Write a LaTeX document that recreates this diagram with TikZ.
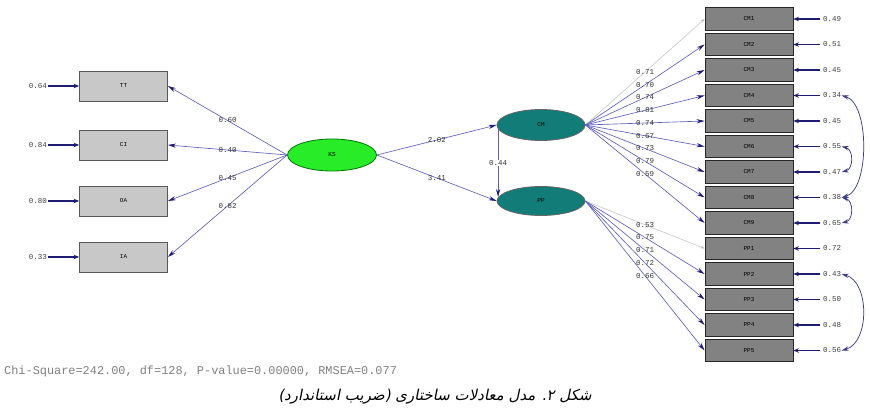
\documentclass[tikz,border=0pt]{standalone}
\usepackage{fontspec}
\setmainfont{Liberation Sans}
\setmonofont{Liberation Mono}
\newfontfamily\farsi[Script=Arabic,FakeSlant=0.2]{DejaVu Sans}
\TeXXeTstate=1
\usetikzlibrary{arrows.meta,calc,shapes.geometric}
\definecolor{lbox}{RGB}{200,200,200}
\definecolor{dbox}{RGB}{130,130,130}
\definecolor{navy}{RGB}{28,28,115}
\definecolor{pathc}{RGB}{95,95,185}
\definecolor{tealc}{RGB}{18,124,120}
\definecolor{lgreen}{RGB}{40,236,40}
\begin{document}
\begin{tikzpicture}[x=1pt,y=-1pt,
  lboxs/.style={draw=black!65, fill=lbox, minimum width=88pt, minimum height=30pt, inner sep=0pt, line width=0.8pt, font=\ttfamily\fontsize{6}{7}\selectfont},
  rboxs/.style={draw=black!85, fill=dbox, minimum width=88pt, minimum height=22.5pt, inner sep=0pt, line width=0.8pt, font=\ttfamily\fontsize{6}{7}\selectfont},
  lat/.style={inner sep=0.5pt, font=\ttfamily\fontsize{7.5}{8}\selectfont, text=black!80},
  elat/.style={inner sep=0.5pt, font=\ttfamily\fontsize{7.5}{8}\selectfont, text=black!75},
  load/.style={draw=pathc, line width=0.65pt, -{Stealth[length=8pt,width=4.2pt,color=navy]}},
  fixed/.style={draw=black!22, line width=0.6pt, -{Stealth[length=4pt,width=2.5pt,color=black!30]}},
  err/.style={draw=navy, line width=1.5pt, -{Stealth[length=5.5pt,width=4.5pt]}},
  cov/.style={draw=navy!85, line width=0.75pt, {Stealth[length=7pt,width=4.5pt]}-{Stealth[length=7pt,width=4.5pt]}},
  latent/.style={ellipse, inner sep=0pt, line width=0.8pt, font=\ttfamily\fontsize{6}{7}\selectfont}
]
\useasboundingbox (0,0) rectangle (870,417);

% left observed
\node[lboxs] (L1) at (123.5,86) {TT};
\node[lboxs] (L2) at (123.5,145) {CI};
\node[lboxs] (L3) at (123.5,201) {OA};
\node[lboxs] (L4) at (123.5,257) {IA};
\node[elat] (le1) at (38,86) {0.64};
\node[elat] (le2) at (38,145) {0.84};
\node[elat] (le3) at (38,201) {0.80};
\node[elat] (le4) at (38,257) {0.33};
\foreach \i in {1,...,4} \draw[err] (le\i.east) -- (L\i.west);

% latents
\node[latent, draw=green!45!black, fill=lgreen, minimum width=89pt, minimum height=32pt] (KS) at (332,155) {KS};
\node[latent, draw=black!60, fill=tealc, minimum width=88pt, minimum height=31pt] (E1) at (541,125) {CM};
\node[latent, draw=black!60, fill=tealc, minimum width=88pt, minimum height=29pt] (E2) at (541,201) {PP};

% left loadings
\draw[load] (KS.west) -- node[lat,midway] {0.60} (L1.east);
\draw[load] (KS.west) -- node[lat,midway] {0.40} (L2.east);
\draw[load] (KS.west) -- node[lat,midway] {0.45} (L3.east);
\draw[load] (KS.west) -- node[lat,midway] {0.82} (L4.east);

% structural paths
\draw[load] (KS.east) -- node[lat,midway] {2.02} (E1.west);
\draw[load] (KS.east) -- node[lat,midway] {3.41} (E2.west);
\draw[load] ($(E1.west)+(1.5,4)$) -- node[lat,midway,fill=white] {0.44} ($(E2.west)+(1.5,-4)$);

% right observed
\foreach \i/\n/\y in {1/CM1/19, 2/CM2/44.5, 3/CM3/70, 4/CM4/95.5, 5/CM5/121, 6/CM6/146.5, 7/CM7/172, 8/CM8/197.5, 9/CM9/223, 10/PP1/248.5, 11/PP2/274, 12/PP3/299.5, 13/PP4/325, 14/PP5/350.5}
  \node[rboxs] (R\i) at (749,\y) {\n};
\foreach \i/\v/\y in {1/0.49/19, 2/0.51/44.5, 3/0.45/70, 4/0.34/95.5, 5/0.45/121, 6/0.55/146.5, 7/0.47/172, 8/0.38/197.5, 9/0.65/223, 10/0.72/248.5, 11/0.43/274, 12/0.50/299.5, 13/0.48/325, 14/0.56/350.5}
  \node[elat] (re\i) at (832,\y) {\v};
\foreach \i in {1,...,14} \draw[err] ($(re\i.west)+(-2,0)$) -- (R\i.east);

% right loadings
\draw[fixed] (E1.east) -- node[lat,midway] {0.71} (R1.west);
\foreach \i/\v in {2/0.70, 3/0.74, 4/0.81, 5/0.74, 6/0.67, 7/0.73, 8/0.79, 9/0.59}
  \draw[load] (E1.east) -- node[lat,midway] {\v} (R\i.west);
\draw[fixed] (E2.east) -- node[lat,midway] {0.53} (R10.west);
\foreach \i/\v in {11/0.75, 12/0.71, 13/0.72, 14/0.66}
  \draw[load] (E2.east) -- node[lat,midway] {\v} (R\i.west);

% error covariances
\draw[cov] (re4.east) .. controls ($(re4.east)+(28,8)$) and ($(re8.east)+(28,-8)$) .. (re8.east);
\draw[cov] (re6.east) .. controls ($(re6.east)+(12,3)$) and ($(re7.east)+(12,-3)$) .. (re7.east);
\draw[cov] (re8.east) .. controls ($(re8.east)+(12,3)$) and ($(re9.east)+(12,-3)$) .. (re9.east);
\draw[cov] (re11.east) .. controls ($(re11.east)+(28,8)$) and ($(re14.east)+(28,-8)$) .. (re14.east);

% fit statistics and caption
\node[anchor=west, inner sep=0pt, font=\ttfamily\fontsize{11.9}{13}\selectfont, text=black!50] (stats) at (4,371) {Chi-Square=242.00, df=128, P-value=0.00000, RMSEA=0.077};
\node[inner sep=0pt, font=\farsi\fontsize{15}{18}\selectfont] (cap) at (435,397) {\beginR شکل ۲. مدل معادلات ساختاری (ضریب استاندارد)\endR};
\end{tikzpicture}
\end{document}
